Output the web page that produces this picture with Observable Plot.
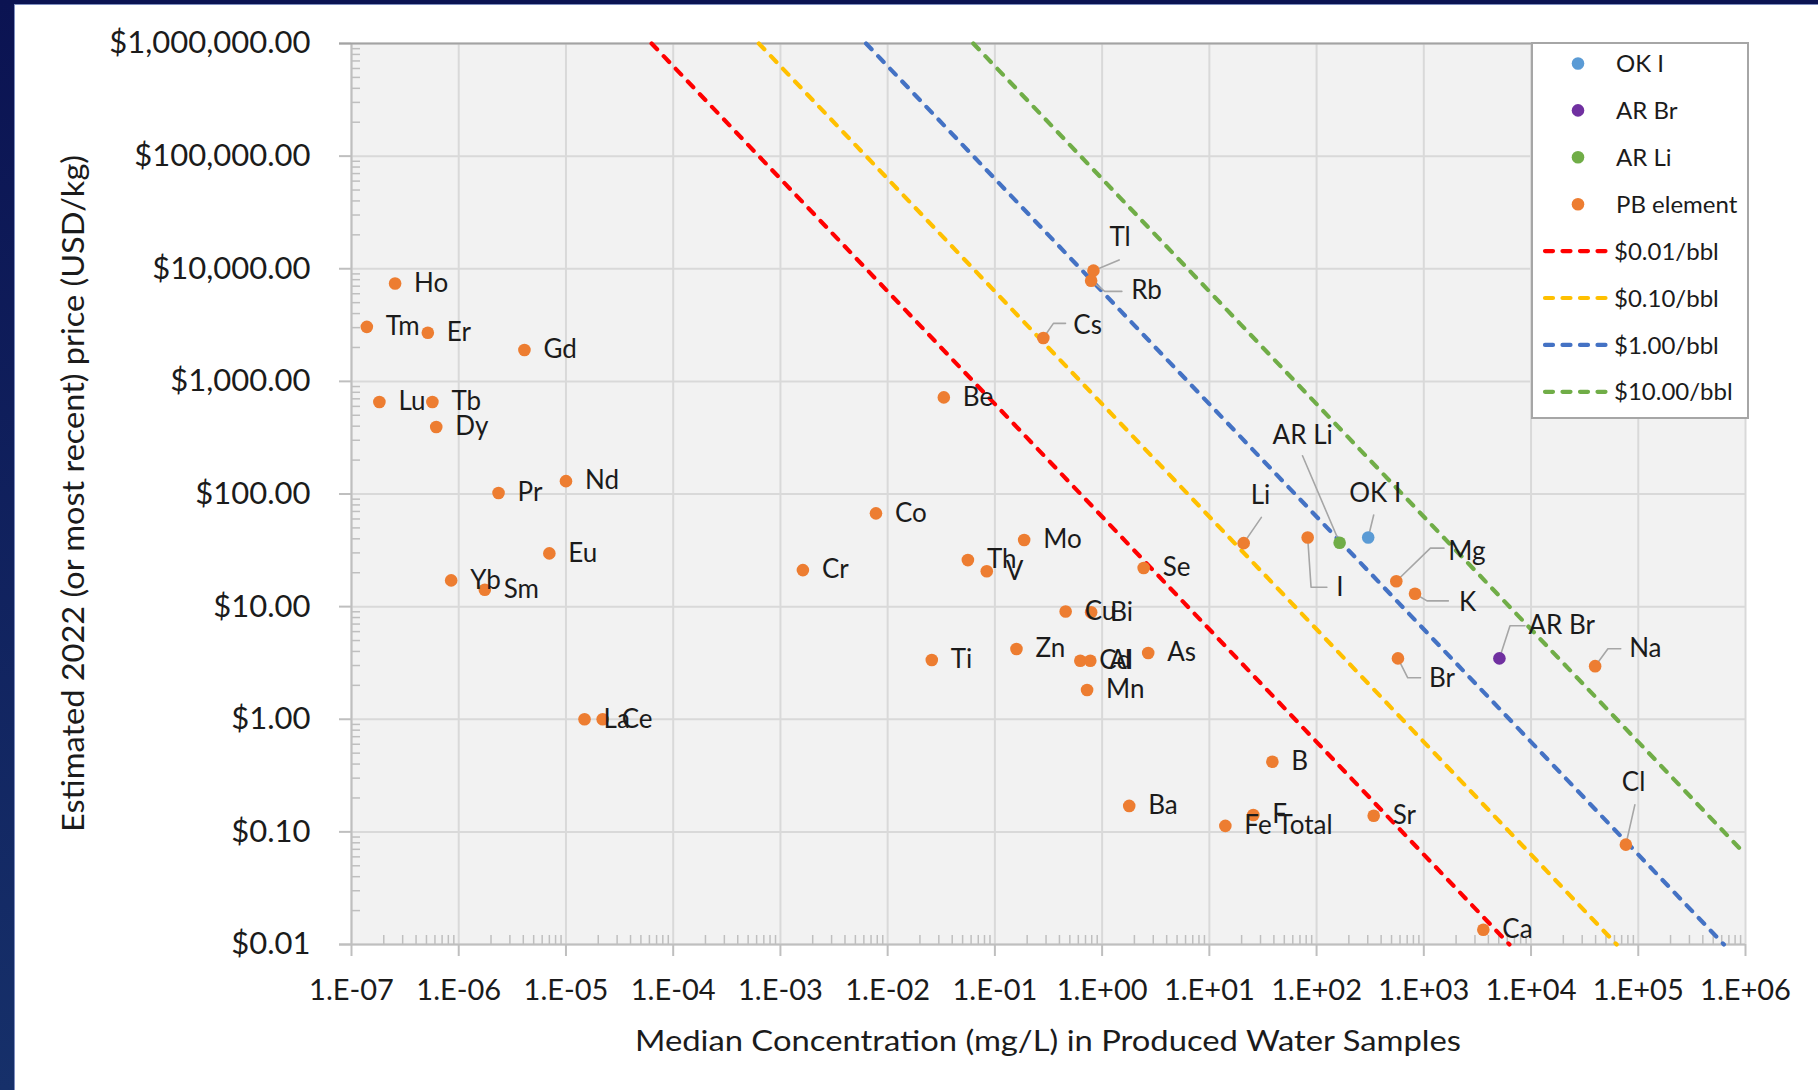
<!DOCTYPE html>
<html><head><meta charset="utf-8">
<script src="https://cdn.jsdelivr.net/npm/d3@7"></script>
<script src="https://cdn.jsdelivr.net/npm/@observablehq/plot@0.6"></script>
<style>
html,body{margin:0;padding:0;width:1818px;height:1090px;overflow:hidden;}
body{background:linear-gradient(#0b1352,#16306a);position:relative;font-family:Lato,sans-serif;}
#panel{position:absolute;left:14px;top:4px;right:0;bottom:0;background:#fff;border-left:1px solid #7f8fc0;border-top:1px solid #7f8fc0;}
#chart{position:absolute;left:0;top:0;}
#legend{position:absolute;left:1531px;top:42px;width:214px;height:373px;background:#fff;border:2px solid #a6a6a6;}
</style></head>
<body><div id="panel"></div><div id="chart"></div><div id="legend"></div>
<script>
// ---------------- data ----------------
const pbNames = ["Ho","Tm","Er","Gd","Lu","Tb","Dy","Pr","Nd","Eu","Yb","Sm","La","Ce",
  "Be","Co","Cr","Mo","Th","V","Se","Cu","Bi","Zn","Ti","Cd","Al","Mn","As",
  "Tl","Rb","Cs","Li","I","Mg","K","Br","Na","Cl",
  "B","Ba","Fe Total","F","Sr","Ca"];
const pbConc = [2.55e-7,1.39e-7,5.15e-7,4.1e-6,1.82e-7,5.68e-7,6.17e-7,2.35e-6,1.0e-5,7.0e-6,8.5e-7,1.75e-6,1.49e-5,2.2e-5,
  0.0334,0.00778,0.00162,0.1875,0.056,0.084,2.44,0.457,0.79,0.159,0.0258,0.626,0.776,0.724,2.69,
  0.83,0.79,0.283,20.9,82.6,554,828,574,39600,76600,
  38.7,1.79,14.1,25.7,341,3590];
const pbPrice = [7400,3050,2700,1900,655,655,393,102,130,29.7,17.1,14.1,1.0,1.0,
  721,67.3,21.1,39,25.9,20.6,22,9.06,8.9,4.2,3.36,3.31,3.31,1.82,3.87,
  9620,7830,2430,36.6,41.1,16.8,13.0,3.47,2.96,0.077,
  0.419,0.17,0.113,0.141,0.139,0.0135];

const okINames = ["OK I"], okIConc = [303], okIPrice = [41.1];
const arBrNames = ["AR Br"], arBrConc = [5070], arBrPrice = [3.47];
const arLiNames = ["AR Li"], arLiConc = [164], arLiPrice = [36.9];

const seriesNames = ["OK I","AR Br","AR Li","PB element"];
const seriesColors = ["#5b9bd5","#7030a0","#70ad47","#ed7d31"];

// iso-value lines ($ per barrel): endpoints read at the frame edges
const isoNames = ["$0.01/bbl","$0.10/bbl","$1.00/bbl","$10.00/bbl"];
const isoColors = ["#ff0000","#ffc000","#4472c4","#70ad47"];
const isoStartConc = [6.29e-5, 6.29e-4, 6.29e-3, 6.29e-2];
const isoStartPrice = [1e6, 1e6, 1e6, 1e6];
const isoEndConc = [6290, 62900, 629000, 1e6];
const isoEndPrice = [0.01, 0.01, 0.01, 0.0629];

const xTickValues = [1e-7,1e-6,1e-5,1e-4,1e-3,1e-2,1e-1,1e0,1e1,1e2,1e3,1e4,1e5,1e6];
const xTickLabels = ["1.E-07","1.E-06","1.E-05","1.E-04","1.E-03","1.E-02","1.E-01","1.E+00","1.E+01","1.E+02","1.E+03","1.E+04","1.E+05","1.E+06"];
const yTickValues = [0.01,0.1,1,10,100,1000,10000,100000,1000000];
const yTickLabels = ["$0.01","$0.10","$1.00","$10.00","$100.00","$1,000.00","$10,000.00","$100,000.00","$1,000,000.00"];

const xTitle = "Median Concentration (mg/L) in Produced Water Samples";
const yTitle = "Estimated 2022 (or most recent) price (USD/kg)";

// ---------------- layout ----------------
const W = 1818, H = 1090, mL = 351, mR = 73, mT = 43, mB = 146;
const frameW = W - mL - mR, frameH = H - mT - mB;
const xS = d3.scaleLog([1e-7, 1e6], [mL, W - mR]);
const yS = d3.scaleLog([0.01, 1e6], [H - mB, mT]);
const TXT = "#1b1b1b";

// label offsets (px, text start / vertical centre) and leader polylines (px, relative to dot)
const defaultOffset = [19, 0];
const labelOffset = {
  "Tl":[16,-33], "Rb":[40,10], "Cs":[30,-12], "Li":[7,-47], "AR Li":[-67,-107.5],
  "OK I":[-19,-44], "I":[28.6,49.7], "Mg":[52,-29.6], "K":[44,8.8], "Br":[31,20.5],
  "AR Br":[29,-32.7], "Na":[34,-17.5], "Cl":[-4,-62]
};
const leaders = {
  "Tl":[[0,0],[25.7,-10.7]],
  "Rb":[[0,0],[13.6,10.7],[30.7,10.7]],
  "Cs":[[0,0],[10.1,-14.6],[22.2,-14.6]],
  "Li":[[0,0],[17.7,-25.8]],
  "AR Li":[[0,0],[-37.1,-87]],
  "OK I":[[0,0],[5.5,-22.5]],
  "I":[[0,0],[3.4,49.7],[19.2,49.7]],
  "Mg":[[0,0],[34.1,-33.1],[47.7,-33.1]],
  "K":[[0,0],[12,7.1],[33.3,7.1]],
  "Br":[[0,0],[9.8,19.4],[22.6,19.4]],
  "AR Br":[[0,0],[10.6,-32.7],[25.6,-32.7]],
  "Na":[[0,0],[12.8,-17.4],[25.6,-17.4]],
  "Cl":[[0,0],[9,-39.8]]
};

// ---------------- tables ----------------
const points = [];
const addSeries = (names, conc, price, s) => names.forEach((n, i) => points.push({name: n, conc: conc[i], price: price[i], series: s}));
addSeries(okINames, okIConc, okIPrice, "OK I");
addSeries(arBrNames, arBrConc, arBrPrice, "AR Br");
addSeries(arLiNames, arLiConc, arLiPrice, "AR Li");
addSeries(pbNames, pbConc, pbPrice, "PB element");

const labels = points.map(p => {
  const [dx, dy] = labelOffset[p.name] || defaultOffset;
  return {name: p.name, lx: xS.invert(xS(p.conc) + dx), ly: yS.invert(yS(p.price) + dy)};
});
const leaderPts = [];
points.forEach(p => {
  const L = leaders[p.name];
  if (!L) return;
  L.forEach(([dx, dy]) => leaderPts.push({key: p.name, x: xS.invert(xS(p.conc) + dx), y: yS.invert(yS(p.price) + dy)}));
});
const isoPts = [];
isoNames.forEach((n, i) => {
  isoPts.push({name: n, conc: isoStartConc[i], price: isoStartPrice[i]});
  isoPts.push({name: n, conc: isoEndConc[i], price: isoEndPrice[i]});
});
const xMinor = [], yMinor = [];
for (let e = -7; e < 6; e++) for (let k = 2; k <= 9; k++) xMinor.push(k * Math.pow(10, e));
for (let e = -2; e < 6; e++) for (let k = 2; k <= 9; k++) yMinor.push(k * Math.pow(10, e));

const plot = Plot.plot({
  width: W, height: H,
  marginLeft: mL, marginRight: mR, marginTop: mT, marginBottom: mB,
  x: {type: "log", domain: [1e-7, 1e6], axis: null},
  y: {type: "log", domain: [0.01, 1e6], axis: null},
  color: {domain: seriesNames, range: seriesColors},
  style: {background: "transparent", fontFamily: "Lato, sans-serif", overflow: "visible"},
  marks: [
    Plot.frame({fill: "#f2f2f2", stroke: "none"}),
    Plot.ruleX(xTickValues, {x: d => d, stroke: "#d9d9d9", strokeWidth: 2}),
    Plot.ruleY(yTickValues, {y: d => d, stroke: "#d9d9d9", strokeWidth: 2}),
    Plot.ruleX(xMinor, {x: d => d, stroke: "#bfbfbf", strokeWidth: 1.5, insetTop: frameH - 9}),
    Plot.ruleY(yMinor, {y: d => d, stroke: "#bfbfbf", strokeWidth: 1.5, insetRight: frameW - 9}),
    Plot.ruleX(xTickValues, {x: d => d, stroke: "#bfbfbf", strokeWidth: 2, insetTop: frameH, insetBottom: -12}),
    Plot.ruleY(yTickValues, {y: d => d, stroke: "#bfbfbf", strokeWidth: 2, insetRight: frameW, insetLeft: -12}),
    Plot.ruleX([1e-7], {x: d => d, stroke: "#bfbfbf", strokeWidth: 2}),
    Plot.ruleY([0.01], {y: d => d, stroke: "#bfbfbf", strokeWidth: 2, insetLeft: -12}),
    Plot.ruleY([1e6], {y: d => d, stroke: "#a3a3a3", strokeWidth: 2, insetLeft: -12}),
    Plot.line(isoPts, {x: "conc", y: "price", z: "name", stroke: d => isoColors[isoNames.indexOf(d.name)],
      strokeWidth: 4.2, strokeDasharray: "8,9.5", strokeLinecap: "round"}),
    Plot.line(leaderPts, {x: "x", y: "y", z: "key", stroke: "#a6a6a6", strokeWidth: 1.6}),
    Plot.dot(points, {x: "conc", y: "price", r: 6.3, fill: "series", stroke: "none"}),
    Plot.text(labels, {x: "lx", y: "ly", text: "name", textAnchor: "start", lineAnchor: "middle", fontSize: 26, fill: TXT}),
    Plot.text(xTickValues, {x: d => d, text: (d, i) => xTickLabels[i], frameAnchor: "bottom", dy: 46, lineAnchor: "middle", fontSize: 29, fill: TXT}),
    Plot.text(yTickValues, {y: d => d, text: (d, i) => yTickLabels[i], frameAnchor: "left", dx: -41, textAnchor: "end", lineAnchor: "middle", fontSize: 31, fill: TXT})
  ]
});
document.getElementById("chart").appendChild(plot);

// axis titles
const svg = d3.select(plot);
svg.append("text").attr("x", (mL + W - mR) / 2).attr("y", 1051).attr("text-anchor", "middle")
  .attr("font-size", 29).attr("fill", TXT).attr("font-family", "Lato, sans-serif")
  .attr("textLength", 826).attr("lengthAdjust", "spacingAndGlyphs").text(xTitle);
svg.append("text").attr("transform", `translate(84,${(mT + H - mB) / 2}) rotate(-90)`).attr("text-anchor", "middle")
  .attr("font-size", 31).attr("fill", TXT).attr("font-family", "Lato, sans-serif")
  .attr("textLength", 677).attr("lengthAdjust", "spacingAndGlyphs").text(yTitle);

// legend
const leg = d3.select("#legend").append("svg").attr("width", 214).attr("height", 373);
const rowY = i => 19.5 + i * 46.9;
seriesNames.forEach((n, i) => {
  leg.append("circle").attr("cx", 45).attr("cy", rowY(i)).attr("r", 6.3).attr("fill", seriesColors[i]);
  leg.append("text").attr("x", 83).attr("y", rowY(i)).attr("dy", "0.36em").attr("font-size", 24)
    .attr("font-family", "Lato, sans-serif").attr("fill", TXT).text(n);
});
isoNames.forEach((n, i) => {
  const y = rowY(i + 4);
  leg.append("line").attr("x1", 12).attr("x2", 77).attr("y1", y).attr("y2", y)
    .attr("stroke", isoColors[i]).attr("stroke-width", 4.2).attr("stroke-dasharray", "8,9.5").attr("stroke-linecap", "round");
  leg.append("text").attr("x", 81).attr("y", y).attr("dy", "0.36em").attr("font-size", 24)
    .attr("font-family", "Lato, sans-serif").attr("fill", TXT).text(n);
});
</script></body></html>
